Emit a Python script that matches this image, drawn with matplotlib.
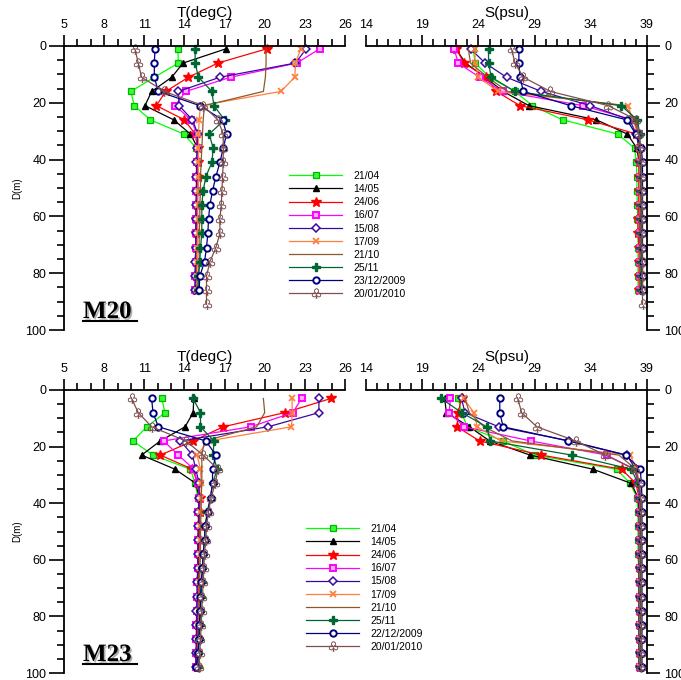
"""Profili verticali di temperatura e salinità alle stazioni M20 e M23."""

import matplotlib

matplotlib.use("Agg")
import matplotlib.patheffects as pe
import matplotlib.pyplot as plt
from matplotlib.lines import Line2D
from matplotlib.ticker import FixedLocator, MultipleLocator

plt.rcParams["font.family"] = ["Liberation Sans", "DejaVu Sans"]

W, H = 681, 680

# --- dati -------------------------------------------------------------------
DEPTH_M20 = [1, 6, 11, 16, 21, 26, 31, 36, 41, 46, 51, 56, 61, 66, 71, 76, 81, 86, 91]
DEPTH_M23 = [3, 8, 13, 18, 23, 28, 33, 38, 43, 48, 53, 58, 63, 68, 73, 78, 83, 88, 93, 98]

T_TICKS = [5, 8, 11, 14, 17, 20, 23, 26]
S_TICKS = [14, 19, 24, 29, 34, 39]

LABELS_M20 = ["21/04", "14/05", "24/06", "16/07", "15/08", "17/09", "21/10",
              "25/11", "23/12/2009", "20/01/2010"]
LABELS_M23 = ["21/04", "14/05", "24/06", "16/07", "15/08", "17/09", "21/10",
              "25/11", "22/12/2009", "20/01/2010"]

TEMP_M20 = [
    [13.5, 13.55, 11.75, 10.0, 10.25, 11.45, 13.95, 14.9, 15.0, 15.0, 14.95, 14.9, 14.9, 14.85, 14.9, 14.85, 14.9, 14.85],
    [17.1, 13.9, 13.05, 11.55, 11.05, 13.2, 14.45, 15.0, 15.05, 15.0, 15.0, 14.95, 14.95, 14.9, 14.9, 14.9, 14.85, 14.8],
    [20.15, 16.5, 14.3, 12.6, 11.9, 14.0, 14.8, 15.0, 15.0, 15.0, 14.95, 14.95, 14.9, 14.9, 14.9, 14.85, 14.85, 14.85],
    [24.1, 22.4, 17.45, 14.1, 13.3, 14.5, 14.95, 15.0, 14.95, 14.9, 14.9, 14.9, 14.85, 14.85, 14.85, 14.85, 14.8, 14.8],
    [23.1, 22.3, 16.65, 13.55, 13.6, 14.6, 15.0, 14.95, 14.9, 14.9, 14.9, 14.85, 14.85, 14.85, 14.85, 14.8, 14.8, 14.8],
    [22.7, 22.3, 22.25, 21.2, 15.2, 15.1, 15.05, 15.05, 15.05, 15.05, 15.0, 15.0, 15.0, 15.0, 14.95, 14.95, 14.95, 14.95],
    [20.1, 20.1, 20.05, 19.9, 15.5, 15.4, 15.35, 15.3, 15.25, 15.2, 15.2, 15.15, 15.15, 15.1, 15.1, 15.1, 15.05, 15.05],
    [14.8, 14.8, 15.05, 16.05, 16.2, 17.0, 15.85, 16.15, 16.05, 15.6, 15.4, 15.3, 15.3, 15.3, 15.2, 15.15, 15.05, 15.0],
    [11.8, 11.75, 11.75, 12.05, 15.15, 16.85, 17.15, 16.9, 16.65, 16.35, 16.1, 15.9, 15.8, 15.75, 15.65, 15.5, 15.15, 15.1],
    [10.3, 10.55, 10.8, 12.5, 15.4, 16.5, 16.9, 16.9, 16.9, 16.85, 16.8, 16.75, 16.65, 16.65, 16.35, 15.9, 15.65, 15.65, 15.65],
]

SAL_M20 = [
    [23.55, 23.7, 25.0, 27.25, 28.8, 31.5, 36.4, 37.9, 38.05, 38.1, 38.1, 38.15, 38.15, 38.2, 38.2, 38.2, 38.2, 38.2],
    [22.0, 22.85, 24.6, 26.2, 28.5, 34.5, 37.25, 38.1, 38.3, 38.3, 38.3, 38.35, 38.35, 38.35, 38.35, 38.35, 38.35, 38.35],
    [22.05, 22.7, 24.7, 25.6, 27.7, 33.75, 38.05, 38.3, 38.3, 38.3, 38.3, 38.25, 38.2, 38.2, 38.3, 38.3, 38.3, 38.3],
    [21.85, 22.2, 24.1, 26.15, 33.3, 37.75, 38.3, 38.35, 38.4, 38.4, 38.4, 38.4, 38.4, 38.4, 38.4, 38.4, 38.4, 38.4],
    [23.3, 24.6, 26.5, 29.6, 33.95, 37.45, 38.05, 38.3, 38.4, 38.45, 38.45, 38.45, 38.45, 38.45, 38.45, 38.45, 38.45, 38.45],
    [23.7, 23.7, 24.0, 25.75, 37.3, 37.75, 38.2, 38.3, 38.35, 38.35, 38.35, 38.35, 38.4, 38.4, 38.4, 38.4, 38.4, 38.4],
    [23.1, 23.3, 24.8, 26.6, 37.0, 37.9, 38.2, 38.35, 38.4, 38.4, 38.45, 38.45, 38.45, 38.45, 38.45, 38.45, 38.45, 38.45],
    [24.9, 24.9, 25.15, 27.25, 36.7, 38.15, 38.35, 38.4, 38.45, 38.45, 38.5, 38.5, 38.5, 38.5, 38.5, 38.5, 38.5, 38.5],
    [27.6, 27.6, 27.7, 28.0, 32.2, 37.2, 38.0, 38.5, 38.6, 38.6, 38.6, 38.6, 38.6, 38.6, 38.6, 38.6, 38.6, 38.6],
    [26.95, 27.25, 28.0, 30.4, 35.55, 38.05, 38.3, 38.4, 38.5, 38.5, 38.55, 38.55, 38.55, 38.55, 38.55, 38.6, 38.6, 38.6, 38.6],
]

TEMP_M23 = [
    [12.3, 12.55, 11.2, 10.15, 11.65, 14.45, 14.8, 15.0, 15.1, 15.1, 15.1, 15.1, 15.05, 15.05, 15.05, 15.0, 15.0, 15.0, 14.95, 14.9],
    [14.7, 14.65, 14.05, 12.2, 10.8, 13.3, 14.85, 15.1, 15.1, 15.1, 15.05, 15.05, 15.05, 15.0, 15.0, 15.0, 14.95, 14.95, 14.9, 14.9],
    [24.95, 21.5, 16.9, 14.65, 12.2, 14.6, 15.0, 15.2, 15.2, 15.15, 15.15, 15.1, 15.1, 15.1, 15.05, 15.05, 15.0, 15.0, 14.95, 14.95],
    [22.75, 22.1, 18.95, 12.45, 13.55, 14.7, 15.0, 15.1, 15.05, 15.05, 15.0, 15.0, 15.0, 14.95, 14.95, 14.95, 14.9, 14.9, 14.9, 14.85],
    [24.05, 24.05, 20.25, 13.7, 14.6, 14.85, 15.1, 15.1, 15.05, 15.05, 15.0, 15.0, 15.0, 14.95, 14.95, 14.9, 14.9, 14.9, 14.85, 14.85],
    [22.05, 22.05, 22.0, 15.8, 14.95, 15.2, 15.25, 15.25, 15.2, 15.2, 15.2, 15.15, 15.15, 15.1, 15.1, 15.1, 15.05, 15.05, 15.0, 15.0],
    [19.9, 20.0, 19.4, 15.5, 15.3, 15.3, 15.3, 15.25, 15.25, 15.2, 15.2, 15.2, 15.15, 15.15, 15.1, 15.1, 15.1, 15.05, 15.05, 15.0],
    [14.65, 15.2, 15.2, 16.2, 16.15, 16.45, 16.1, 15.95, 15.7, 15.55, 15.5, 15.4, 15.35, 15.3, 15.25, 15.2, 15.15, 15.1, 15.05, 15.0],
    [11.55, 11.65, 12.05, 15.6, 16.35, 16.1, 16.1, 15.95, 15.75, 15.55, 15.5, 15.4, 15.35, 15.25, 15.2, 15.2, 15.1, 15.1, 15.0, 14.9],
    [10.05, 10.55, 11.55, 14.1, 15.4, 16.5, 16.3, 16.0, 15.8, 15.65, 15.6, 15.5, 15.45, 15.4, 15.35, 15.3, 15.25, 15.2, 15.15, 15.1],
]

SAL_M23 = [
    [22.2, 22.5, 23.0, 26.2, 29.0, 36.3, 37.5, 38.1, 38.2, 38.2, 38.2, 38.2, 38.25, 38.25, 38.25, 38.25, 38.25, 38.25, 38.25, 38.25],
    [21.0, 21.15, 23.2, 25.0, 28.6, 34.2, 37.6, 38.2, 38.3, 38.3, 38.3, 38.3, 38.3, 38.3, 38.3, 38.3, 38.3, 38.3, 38.3, 38.3],
    [22.5, 22.2, 22.1, 24.1, 29.6, 36.75, 38.0, 38.3, 38.35, 38.35, 38.35, 38.35, 38.35, 38.35, 38.35, 38.35, 38.35, 38.35, 38.35, 38.35],
    [21.5, 21.4, 22.75, 28.65, 35.4, 37.9, 38.2, 38.3, 38.35, 38.35, 38.35, 38.35, 38.35, 38.35, 38.35, 38.35, 38.35, 38.35, 38.35, 38.35],
    [22.5, 22.8, 25.8, 32.1, 37.2, 38.0, 38.3, 38.4, 38.4, 38.4, 38.4, 38.4, 38.4, 38.4, 38.4, 38.4, 38.4, 38.4, 38.4, 38.4],
    [22.7, 23.6, 23.9, 26.0, 37.5, 38.1, 38.3, 38.4, 38.4, 38.4, 38.4, 38.4, 38.4, 38.4, 38.4, 38.4, 38.4, 38.4, 38.4, 38.4],
    [22.8, 23.2, 24.5, 27.0, 36.5, 38.0, 38.3, 38.4, 38.45, 38.45, 38.45, 38.45, 38.45, 38.45, 38.45, 38.45, 38.45, 38.45, 38.45, 38.45],
    [20.7, 22.5, 24.75, 25.05, 32.3, 37.6, 38.2, 38.4, 38.45, 38.45, 38.45, 38.45, 38.45, 38.45, 38.45, 38.45, 38.45, 38.45, 38.45, 38.45],
    [25.9, 25.9, 26.2, 32.0, 37.1, 38.4, 38.5, 38.55, 38.55, 38.55, 38.55, 38.55, 38.55, 38.55, 38.55, 38.55, 38.55, 38.55, 38.55, 38.55],
    [27.5, 27.85, 29.2, 32.65, 35.3, 37.9, 38.3, 38.45, 38.5, 38.5, 38.5, 38.5, 38.5, 38.5, 38.5, 38.5, 38.5, 38.5, 38.5, 38.5],
]

# --- stili delle serie --------------------------------------------------------
STYLES = [
    dict(color="#00ff00", marker="s", ms=4.6, mfc="#33ff33", mec="#00b400", mew=0.9),
    dict(color="#000000", marker="^", ms=4.8, mfc="#000000", mec="#000000"),
    dict(color="#ff0000", marker="*", ms=7, mfc="#ff0000", mec="#ff0000"),
    dict(color="#ff00ff", marker="s", ms=4.4, mfc="#ffb0ff", mec="#ff00ff", mew=1.4),
    dict(color="#3a0aa0", marker="D", ms=3.8, mfc="white", mec="#3a0aa0", mew=1.1),
    dict(color="#ff7f3f", marker="x", ms=5, mfc="#ff7f3f", mec="#ff7f3f", mew=1.3),
    dict(color="#8b5a2b", marker="None"),
    dict(color="#006633", marker="P", ms=5.5, mfc="#006633", mec="#006633"),
    dict(color="#000080", marker="o", ms=4.6, mfc="white", mec="#000080", mew=1.4),
    dict(color="#7f4f4f", marker="$♧$", ms=7, mfc="#7f4f4f", mec="#7f4f4f", mew=0.3),
]


def px_axes(fig, left, top, right, bottom):
    """Crea un asse a partire da coordinate in pixel dell'immagine."""
    return fig.add_axes([left / W, 1 - bottom / H, (right - left) / W, (bottom - top) / H])


def style_axis(ax, xlim, ticks, side):
    ax.set_xlim(*xlim)
    ax.set_ylim(100, 0)
    ax.xaxis.set_ticks_position("top")
    ax.xaxis.set_major_locator(FixedLocator(ticks))
    ax.xaxis.set_minor_locator(MultipleLocator(1))
    ax.yaxis.set_major_locator(MultipleLocator(20))
    ax.yaxis.set_minor_locator(MultipleLocator(5))
    ax.yaxis.set_ticks_position(side)
    ax.spines["bottom"].set_visible(False)
    ax.spines["right" if side == "left" else "left"].set_visible(False)
    for sp in ax.spines.values():
        sp.set_linewidth(1.3)
    ax.tick_params(which="both", width=1.2, labelsize=9)
    ax.tick_params(axis="x", which="major", length=7.7, pad=3)
    ax.tick_params(axis="x", which="minor", length=4.8)
    ax.tick_params(axis="x", which="both", top=True, bottom=False, labeltop=True, labelbottom=False)
    # i tick verticali principali sono più lunghi a sinistra che a destra
    ax.tick_params(axis="y", which="major", length=10.6 if side == "left" else 9, pad=2 if side == "left" else 3.5)
    ax.tick_params(axis="y", which="minor", length=5.3)


def draw_station(fig, top, bottom, depth, temp, sal, name, label_y):
    ax_t = px_axes(fig, 64, top, 345, bottom)
    ax_s = px_axes(fig, 366, top, 647, bottom)
    style_axis(ax_t, (5, 26), T_TICKS, "left")
    style_axis(ax_s, (14, 39), S_TICKS, "right")
    span = bottom - top
    ax_t.text(0.5, 1 + 33 / span, "T(degC)", transform=ax_t.transAxes,
              ha="center", va="center", fontsize=11)
    ax_s.text(0.5, 1 + 33 / span, "S(psu)", transform=ax_s.transAxes,
              ha="center", va="center", fontsize=11)
    ax_t.set_ylabel("D(m)", fontsize=7, labelpad=2)

    for values, st in zip(temp, STYLES):
        ax_t.plot(values, depth[:len(values)], lw=0.9, clip_on=False, **st)
    for values, st in zip(sal, STYLES):
        ax_s.plot(values, depth[:len(values)], lw=0.9, clip_on=False, **st)

    txt = fig.text(83 / W, 1 - label_y / H, name, family=["Liberation Serif", "DejaVu Serif"],
                   fontsize=18, fontweight="bold", va="baseline")
    txt.set_path_effects([pe.SimplePatchShadow(offset=(1.2, -1.2), shadow_rgbFace="#999999", alpha=0.8),
                          pe.Normal()])
    fig.add_artist(Line2D([83 / W, 137 / W], [1 - (label_y + 3) / H] * 2, color="black", lw=1.5))
    return ax_t, ax_s


def add_legend(fig, labels, x, y):
    handles = [Line2D([], [], lw=0.9, **st) for st in STYLES]
    fig.legend(handles, labels, loc="upper left", bbox_to_anchor=(x / W, 1 - y / H),
               frameon=False, fontsize=7.5, handlelength=5.1, handletextpad=1.05,
               labelspacing=0.3, borderpad=0, borderaxespad=0, numpoints=1)


fig = plt.figure(figsize=(W / 100, H / 100), dpi=100)

draw_station(fig, 46, 330, DEPTH_M20, TEMP_M20, SAL_M20, "M20", 318)
add_legend(fig, LABELS_M20, 289, 171)

draw_station(fig, 390, 673, DEPTH_M23, TEMP_M23, SAL_M23, "M23", 661)
add_legend(fig, LABELS_M23, 306, 524)

fig.savefig("out.png", dpi=100)
